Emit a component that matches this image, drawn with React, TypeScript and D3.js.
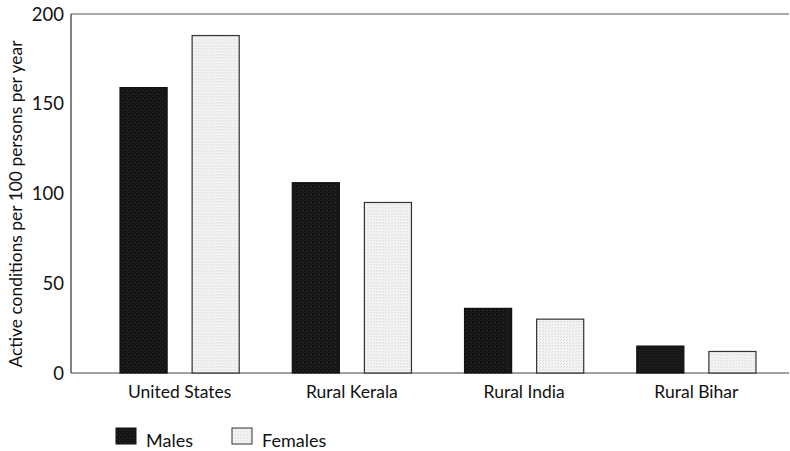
import React from "react";
import * as d3 from "d3";

const categories = ["United States", "Rural Kerala", "Rural India", "Rural Bihar"];
const seriesNames = ["Males", "Females"];
const males = [159, 106, 36, 15];
const females = [188, 95, 30, 12];
const yTicks = [0, 50, 100, 150, 200];
const yLabel = "Active conditions per 100 persons per year";

const W = 790, H = 451;
const left = 71, right = 789, top = 14, bottom = 373;
const FONT = "Lato, 'Open Sans', sans-serif";

export default function App() {
  const x = d3.scaleBand<string>().domain(categories).range([93.5, 782.5]).padding(0);
  const xs = d3.scaleBand<string>().domain(seriesNames).range([0, x.bandwidth()])
    .paddingInner(0.347).paddingOuter(0.368);
  const y = d3.scaleLinear().domain([0, 200]).range([bottom, top]);
  const values: Record<string, number[]> = { Males: males, Females: females };
  const fills: Record<string, string> = { Males: "url(#dark)", Females: "url(#light)" };
  const strokes: Record<string, string> = { Males: "#111", Females: "#333" };

  return (
    <svg width={W} height={H} style={{ position: "absolute", left: 0, top: 0, background: "#fff" }}>
      <defs>
        <pattern id="dark" width="4" height="4" patternUnits="userSpaceOnUse">
          <rect width="4" height="4" fill="#141414" />
          <rect x="1" y="2" width="1" height="1" fill="#3a3a3a" />
          <rect x="3" y="0" width="1" height="1" fill="#2c2c2c" />
        </pattern>
        <pattern id="light" width="3" height="3" patternUnits="userSpaceOnUse">
          <rect width="3" height="3" fill="#f4f4f4" />
          <rect x="0" y="0" width="1" height="1" fill="#d6d6d6" />
          <rect x="2" y="1" width="1" height="1" fill="#dedede" />
        </pattern>
      </defs>
      <line x1={left} x2={right} y1={top} y2={top} stroke="#555" strokeWidth={1.2} />
      <line x1={left} x2={left} y1={top} y2={bottom} stroke="#333" strokeWidth={1.2} />
      <line x1={left} x2={right} y1={bottom} y2={bottom} stroke="#444" strokeWidth={1.2} />
      {yTicks.map((t) => (
        <text key={t} x={64} y={y(t)} dy="0.36em" textAnchor="end" fontFamily={FONT} fontSize={18.5} fill="#111">
          {t}
        </text>
      ))}
      <text
        transform={`translate(22,204) rotate(-90)`}
        textAnchor="middle"
        fontFamily={FONT}
        fontSize={17.4}
        fill="#111"
      >
        {yLabel}
      </text>
      {categories.map((c, i) => (
        <g key={c} transform={`translate(${x(c)},0)`}>
          {seriesNames.map((s) => (
            <rect
              key={s}
              x={xs(s)}
              y={y(values[s][i])}
              width={xs.bandwidth()}
              height={bottom - y(values[s][i])}
              fill={fills[s]}
              stroke={strokes[s]}
              strokeWidth={1.2}
            />
          ))}
          <text x={x.bandwidth() / 2} y={398} textAnchor="middle" fontFamily={FONT} fontSize={17.5} fill="#111">
            {c}
          </text>
        </g>
      ))}
      {seriesNames.map((s, i) => (
        <g key={s} transform={`translate(${116 + i * 116},428)`}>
          <rect width={20} height={16} fill={fills[s]} stroke={strokes[s]} strokeWidth={1} />
          <text x={30} y={19} fontFamily={FONT} fontSize={18} fill="#111">
            {s}
          </text>
        </g>
      ))}
    </svg>
  );
}
